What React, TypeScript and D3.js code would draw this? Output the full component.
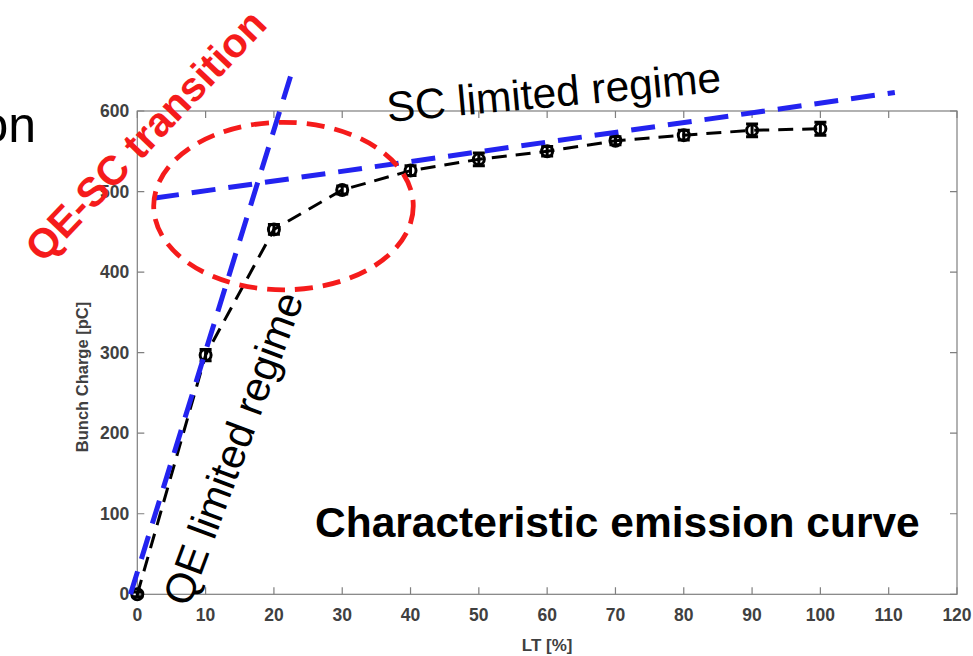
import React, { useEffect, useRef } from 'react'
import * as d3 from 'd3'

// laser transmission [%] vs bunch charge [pC]
const lt = [0, 10, 20, 30, 40, 50, 60, 70, 80, 90, 100]
const charge = [0, 297, 453, 502, 526, 540, 550, 563, 570, 576, 578]
const chargeErr = [3, 7, 6, 5, 6, 8, 6, 5, 6, 8, 8]

const xTicks = [0, 10, 20, 30, 40, 50, 60, 70, 80, 90, 100, 110, 120]
const yTicks = [0, 100, 200, 300, 400, 500, 600]

// guide lines drawn over the plot, in data units
const qeLine = [{ x: -1, y: 0 }, { x: 22.5, y: 645 }]
const scLine = [{ x: 2.6, y: 492 }, { x: 110.9, y: 623 }]
const transitionZone = { cx: 21.4, cy: 482, rx: 19, ry: 104 }

export default function App() {
  const ref = useRef<SVGSVGElement>(null)

  useEffect(() => {
    const W = 973
    const H = 656
    const svg = d3.select(ref.current)
    svg.selectAll('*').remove()

    const x = d3.scaleLinear().domain([0, 120]).range([137.3, 957])
    const y = d3.scaleLinear().domain([0, 600]).range([594.3, 111])
    const axisColor = '#7f7f7f'
    const labelColor = '#404040'
    const font = "'Liberation Sans', Arial, sans-serif"

    svg.append('rect').attr('width', W).attr('height', H).attr('fill', '#fff')

    // box + inward ticks on all four sides
    const g = svg.append('g')
    g.append('rect')
      .attr('x', x(0)).attr('y', y(600))
      .attr('width', x(120) - x(0)).attr('height', y(0) - y(600))
      .attr('fill', 'none').attr('stroke', axisColor).attr('stroke-width', 1.2)

    const tl = 7
    g.selectAll('.xt').data(xTicks).join('path')
      .attr('d', d => `M${x(d)},${y(0)}v${-tl}M${x(d)},${y(600)}v${tl}`)
      .attr('stroke', axisColor).attr('stroke-width', 1.2)
    g.selectAll('.yt').data(yTicks).join('path')
      .attr('d', d => `M${x(0)},${y(d)}h${tl}M${x(120)},${y(d)}h${-tl}`)
      .attr('stroke', axisColor).attr('stroke-width', 1.2)

    g.selectAll('.xl').data(xTicks).join('text')
      .attr('x', d => x(d)).attr('y', y(0) + 27)
      .attr('text-anchor', 'middle')
      .attr('font-family', font).attr('font-weight', 'bold').attr('font-size', 17.5)
      .attr('fill', labelColor).text(d => d)
    g.selectAll('.yl').data(yTicks).join('text')
      .attr('x', x(0) - 8).attr('y', d => y(d)).attr('dy', '0.35em')
      .attr('text-anchor', 'end')
      .attr('font-family', font).attr('font-weight', 'bold').attr('font-size', 17.5)
      .attr('fill', labelColor).text(d => d)

    g.append('text')
      .attr('x', (x(0) + x(120)) / 2).attr('y', 651)
      .attr('text-anchor', 'middle')
      .attr('font-family', font).attr('font-weight', 'bold').attr('font-size', 17)
      .attr('fill', labelColor).text('LT [%]')
    g.append('text')
      .attr('transform', 'translate(88,377) rotate(-90)')
      .attr('text-anchor', 'middle')
      .attr('font-family', font).attr('font-weight', 'bold').attr('font-size', 16.5)
      .attr('fill', labelColor).text('Bunch Charge [pC]')

    // measured curve
    const pts = lt.map((v, i) => ({ x: v, y: charge[i], e: chargeErr[i] }))
    const line = d3.line<{ x: number; y: number }>().x(d => x(d.x)).y(d => y(d.y))
    svg.append('path').datum(pts).attr('d', line)
      .attr('fill', 'none').attr('stroke', '#000').attr('stroke-width', 3)
      .attr('stroke-dasharray', '15,9')

    const eb = svg.append('g').attr('stroke', '#000').attr('stroke-width', 3)
    eb.selectAll('path').data(pts).join('path')
      .attr('d', d => {
        const cx = x(d.x), y0 = y(d.y - d.e), y1 = y(d.y + d.e)
        return `M${cx},${y0}V${y1}M${cx - 6},${y0}h12M${cx - 6},${y1}h12`
      })
      .attr('fill', 'none')
    svg.append('g').selectAll('circle').data(pts).join('circle')
      .attr('cx', d => x(d.x)).attr('cy', d => y(d.y)).attr('r', 5.5)
      .attr('fill', 'none').attr('stroke', '#000').attr('stroke-width', 3)

    // overlay annotations
    const blue = '#2323f0'
    ;[qeLine, scLine].forEach(l => {
      svg.append('path').datum(l).attr('d', line)
        .attr('fill', 'none').attr('stroke', blue).attr('stroke-width', 5)
        .attr('stroke-dasharray', '24,13')
    })
    svg.append('ellipse')
      .attr('cx', x(transitionZone.cx)).attr('cy', y(transitionZone.cy))
      .attr('rx', x(transitionZone.rx) - x(0)).attr('ry', y(0) - y(transitionZone.ry))
      .attr('fill', 'none').attr('stroke', '#f51b1b').attr('stroke-width', 4.8)
      .attr('stroke-dasharray', '18,10')

    svg.append('text')
      .attr('transform', 'translate(43,264) rotate(-46.5)')
      .attr('font-family', font).attr('font-weight', 'bold').attr('font-size', 41)
      .attr('fill', '#f51b1b').text('QE-SC transition')
    svg.append('text')
      .attr('transform', 'translate(388,122) rotate(-5.2)')
      .attr('font-family', font).attr('font-size', 42.5)
      .attr('fill', '#000').text('SC limited regime')
    svg.append('text')
      .attr('transform', 'translate(189,608) rotate(-69.6)')
      .attr('font-family', font).attr('font-size', 41.5)
      .attr('fill', '#000').text('QE limited regime')
    svg.append('text')
      .attr('x', 315).attr('y', 537)
      .attr('font-family', font).attr('font-weight', 'bold').attr('font-size', 42.5)
      .attr('fill', '#000').text('Characteristic emission curve')
    svg.append('text')
      .attr('x', 36).attr('y', 142).attr('text-anchor', 'end')
      .attr('font-family', font).attr('font-size', 50)
      .attr('fill', '#000').text('on')
  }, [])

  return (
    <svg ref={ref} width={973} height={656}
      style={{ position: 'absolute', left: 0, top: 0, display: 'block' }} />
  )
}
